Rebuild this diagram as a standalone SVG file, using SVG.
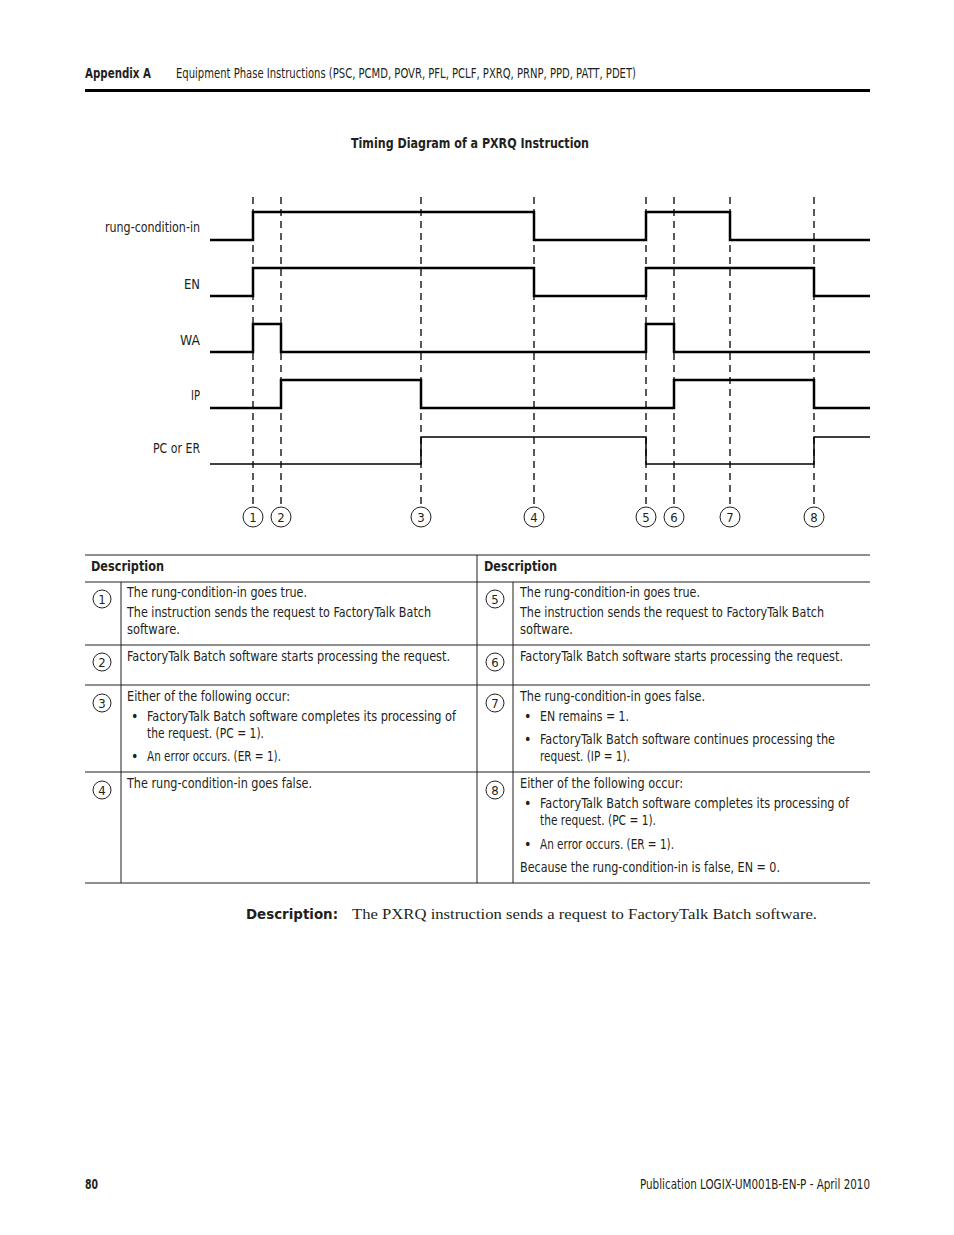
<svg xmlns="http://www.w3.org/2000/svg" width="954" height="1235" viewBox="0 0 954 1235">
<style>
.t{font-family:"Liberation Sans Narrow","DejaVu Sans Condensed","Liberation Sans",sans-serif;font-size:14px;fill:#231f20}
.b{font-weight:bold}
.sig{fill:none;stroke:#000;stroke-width:2.5}
.sigt{fill:none;stroke:#000;stroke-width:1.5}
.dash{stroke:#000;stroke-width:1.3;stroke-dasharray:7 5}
.c{fill:none;stroke:#231f20;stroke-width:1}
.n{font-family:"Liberation Sans Narrow","DejaVu Sans Condensed","Liberation Sans",sans-serif;font-size:13px;fill:#231f20;text-anchor:middle}
.ln{stroke:#231f20;stroke-width:1}
</style>
<rect width="954" height="1235" fill="#fff"/>
<g id="header">
<text class="t b" x="85" y="78" textLength="66" lengthAdjust="spacingAndGlyphs" font-size="13">Appendix A</text>
<text class="t" x="176" y="78" textLength="460" lengthAdjust="spacingAndGlyphs" font-size="13">Equipment Phase Instructions (PSC, PCMD, POVR, PFL, PCLF, PXRQ, PRNP, PPD, PATT, PDET)</text>
<line x1="85" y1="90.5" x2="870" y2="90.5" stroke="#000" stroke-width="3"/>
<text class="t b" x="351" y="148" textLength="238" lengthAdjust="spacingAndGlyphs">Timing Diagram of a PXRQ Instruction</text>
</g>
<g id="labels">
<text class="t" x="105" y="232" textLength="95" lengthAdjust="spacingAndGlyphs">rung-condition-in</text>
<text class="t" x="184" y="289" textLength="16" lengthAdjust="spacingAndGlyphs">EN</text>
<text class="t" x="180" y="345" textLength="20" lengthAdjust="spacingAndGlyphs">WA</text>
<text class="t" x="191" y="400" textLength="9" lengthAdjust="spacingAndGlyphs">IP</text>
<text class="t" x="153" y="453" textLength="47" lengthAdjust="spacingAndGlyphs">PC or ER</text>
</g>
<g id="connectors">
<line class="dash" x1="253" y1="197" x2="253" y2="506"/>
<line class="dash" x1="281" y1="197" x2="281" y2="506"/>
<line class="dash" x1="421" y1="197" x2="421" y2="506"/>
<line class="dash" x1="534" y1="197" x2="534" y2="506"/>
<line class="dash" x1="646" y1="197" x2="646" y2="506"/>
<line class="dash" x1="674" y1="197" x2="674" y2="506"/>
<line class="dash" x1="730" y1="197" x2="730" y2="506"/>
<line class="dash" x1="814" y1="197" x2="814" y2="506"/>
</g>
<g id="signals">
<path id="sig-rung" class="sig" d="M210,240 H253 V212 H534 V240 H646 V212 H730 V240 H870"/>
<path id="sig-en" class="sig" d="M210,296 H253 V268 H534 V296 H646 V268 H814 V296 H870"/>
<path id="sig-wa" class="sig" d="M210,352 H253 V324 H281 V352 H646 V324 H674 V352 H870"/>
<path id="sig-ip" class="sig" d="M210,408 H281 V380 H421 V408 H674 V380 H814 V408 H870"/>
<path id="sig-pc" class="sigt" d="M210,464 H421 V437 H646 V464 H814 V437 H870"/>
</g>
<g id="markers">
<circle class="c" cx="253" cy="517" r="10"/><text class="n" x="253" y="522">1</text>
<circle class="c" cx="281" cy="517" r="10"/><text class="n" x="281" y="522">2</text>
<circle class="c" cx="421" cy="517" r="10"/><text class="n" x="421" y="522">3</text>
<circle class="c" cx="534" cy="517" r="10"/><text class="n" x="534" y="522">4</text>
<circle class="c" cx="646" cy="517" r="10"/><text class="n" x="646" y="522">5</text>
<circle class="c" cx="674" cy="517" r="10"/><text class="n" x="674" y="522">6</text>
<circle class="c" cx="730" cy="517" r="10"/><text class="n" x="730" y="522">7</text>
<circle class="c" cx="814" cy="517" r="10"/><text class="n" x="814" y="522">8</text>
</g>
<g id="table">
<line class="ln" x1="85" y1="555" x2="870" y2="555"/>
<line class="ln" x1="85" y1="582" x2="870" y2="582" stroke-width="1.5"/>
<line class="ln" x1="85" y1="645" x2="870" y2="645"/>
<line class="ln" x1="85" y1="685" x2="870" y2="685"/>
<line class="ln" x1="85" y1="772" x2="870" y2="772"/>
<line class="ln" x1="85" y1="883" x2="870" y2="883"/>
<line class="ln" x1="477" y1="555" x2="477" y2="883"/>
<line class="ln" x1="121" y1="582" x2="121" y2="883"/>
<line class="ln" x1="513" y1="582" x2="513" y2="883"/>
<text class="t b" x="91" y="571" textLength="73" lengthAdjust="spacingAndGlyphs">Description</text>
<text class="t b" x="484" y="571" textLength="73" lengthAdjust="spacingAndGlyphs">Description</text>

<circle class="c" cx="102" cy="599" r="9"/><text class="n" x="102" y="604">1</text>
<circle class="c" cx="102" cy="662" r="9"/><text class="n" x="102" y="667">2</text>
<circle class="c" cx="102" cy="703" r="9"/><text class="n" x="102" y="708">3</text>
<circle class="c" cx="102" cy="790" r="9"/><text class="n" x="102" y="795">4</text>
<circle class="c" cx="495" cy="599" r="9"/><text class="n" x="495" y="604">5</text>
<circle class="c" cx="495" cy="662" r="9"/><text class="n" x="495" y="667">6</text>
<circle class="c" cx="495" cy="703" r="9"/><text class="n" x="495" y="708">7</text>
<circle class="c" cx="495" cy="790" r="9"/><text class="n" x="495" y="795">8</text>

<text class="t" x="127" y="597" textLength="180" lengthAdjust="spacingAndGlyphs">The rung-condition-in goes true.</text>
<text class="t" x="127" y="617" textLength="304" lengthAdjust="spacingAndGlyphs">The instruction sends the request to FactoryTalk Batch</text>
<text class="t" x="127" y="634" textLength="53" lengthAdjust="spacingAndGlyphs">software.</text>
<text class="t" x="520" y="597" textLength="180" lengthAdjust="spacingAndGlyphs">The rung-condition-in goes true.</text>
<text class="t" x="520" y="617" textLength="304" lengthAdjust="spacingAndGlyphs">The instruction sends the request to FactoryTalk Batch</text>
<text class="t" x="520" y="634" textLength="53" lengthAdjust="spacingAndGlyphs">software.</text>

<text class="t" x="127" y="661" textLength="323" lengthAdjust="spacingAndGlyphs">FactoryTalk Batch software starts processing the request.</text>
<text class="t" x="520" y="661" textLength="323" lengthAdjust="spacingAndGlyphs">FactoryTalk Batch software starts processing the request.</text>

<text class="t" x="127" y="701" textLength="163" lengthAdjust="spacingAndGlyphs">Either of the following occur:</text>
<text class="t" x="131" y="721">•</text>
<text class="t" x="147" y="721" textLength="309" lengthAdjust="spacingAndGlyphs">FactoryTalk Batch software completes its processing of</text>
<text class="t" x="147" y="738" textLength="117" lengthAdjust="spacingAndGlyphs">the request. (PC = 1).</text>
<text class="t" x="131" y="761">•</text>
<text class="t" x="147" y="761" textLength="134" lengthAdjust="spacingAndGlyphs">An error occurs. (ER = 1).</text>

<text class="t" x="520" y="701" textLength="185" lengthAdjust="spacingAndGlyphs">The rung-condition-in goes false.</text>
<text class="t" x="524" y="721">•</text>
<text class="t" x="540" y="721" textLength="89" lengthAdjust="spacingAndGlyphs">EN remains = 1.</text>
<text class="t" x="524" y="744">•</text>
<text class="t" x="540" y="744" textLength="295" lengthAdjust="spacingAndGlyphs">FactoryTalk Batch software continues processing the</text>
<text class="t" x="540" y="761" textLength="90" lengthAdjust="spacingAndGlyphs">request. (IP = 1).</text>

<text class="t" x="127" y="788" textLength="185" lengthAdjust="spacingAndGlyphs">The rung-condition-in goes false.</text>

<text class="t" x="520" y="788" textLength="163" lengthAdjust="spacingAndGlyphs">Either of the following occur:</text>
<text class="t" x="524" y="808">•</text>
<text class="t" x="540" y="808" textLength="309" lengthAdjust="spacingAndGlyphs">FactoryTalk Batch software completes its processing of</text>
<text class="t" x="540" y="825" textLength="116" lengthAdjust="spacingAndGlyphs">the request. (PC = 1).</text>
<text class="t" x="524" y="849">•</text>
<text class="t" x="540" y="849" textLength="134" lengthAdjust="spacingAndGlyphs">An error occurs. (ER = 1).</text>
<text class="t" x="520" y="872" textLength="260" lengthAdjust="spacingAndGlyphs">Because the rung-condition-in is false, EN = 0.</text>
</g>
<g id="description">
<text class="t b" x="246" y="919" font-size="17" textLength="92" lengthAdjust="spacingAndGlyphs">Description:</text>
<text x="352" y="919" font-family="'Liberation Serif',serif" font-size="15" fill="#231f20" textLength="465" lengthAdjust="spacingAndGlyphs">The PXRQ instruction sends a request to FactoryTalk Batch software.</text>
</g>
<g id="footer">
<text class="t b" x="85" y="1189" font-size="13" textLength="13" lengthAdjust="spacingAndGlyphs">80</text>
<text class="t" x="640" y="1189" font-size="13" textLength="230" lengthAdjust="spacingAndGlyphs">Publication LOGIX-UM001B-EN-P - April 2010</text>
</g>
</svg>
